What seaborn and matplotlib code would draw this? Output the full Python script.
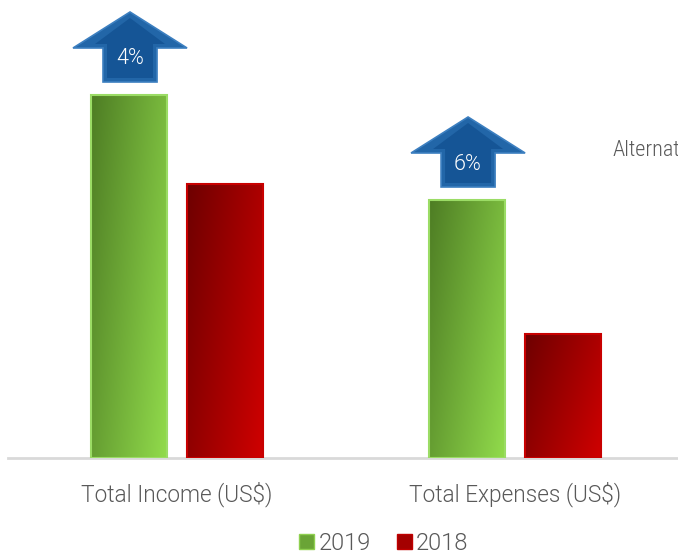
import os
import numpy as np
import pandas as pd
import matplotlib
matplotlib.use('Agg')
import matplotlib.pyplot as plt
import matplotlib.colors as mcolors
from matplotlib import font_manager as fm
from matplotlib.patches import Polygon, Patch
import seaborn as sns

# data (arbitrary units)
categories = ['Total Income (US$)', 'Total Expenses (US$)']
years = ['2019', '2018']
values_2019 = [363, 258]
values_2018 = [274, 124]
growth_labels = ['4%', '6%']

sns.set_style('white')
plt.rcParams['font.family'] = ['Roboto', 'DejaVu Sans']

font_paths = {os.path.basename(f): f for f in fm.findSystemFonts()}


def find_font(size, *names):
    for n in names:
        if n in font_paths:
            return fm.FontProperties(fname=font_paths[n], size=size)
    return fm.FontProperties(family='Roboto', weight='light', size=size)


df = pd.DataFrame({
    'category': categories * 2,
    'year': ['2019'] * 2 + ['2018'] * 2,
    'value': values_2019 + values_2018,
})

W, H = 678, 554
fig = plt.figure(figsize=(W / 100, H / 100), dpi=100)
ax = fig.add_axes([8 / W, (H - 458) / H, 1 - 8 / W, 458 / H])

palette = {'2019': '#79b53e', '2018': '#a80000'}
sns.barplot(data=df, x='category', y='value', hue='year', hue_order=years,
            palette=palette, width=0.568, gap=0.208, legend=False, ax=ax)

ax.set_xlabel('')
ax.set_ylabel('')
ax.set_yticks([])
ax.tick_params(axis='x', length=0, pad=17)
for lab in ax.get_xticklabels():
    lab.set_fontproperties(find_font(16.3, 'Roboto-Light.ttf'))
    lab.set_color('#595959')
for s in ['top', 'left', 'right']:
    ax.spines[s].set_visible(False)
ax.spines['bottom'].set_color('#d9d9d9')
ax.spines['bottom'].set_linewidth(2)


def grad_img(c_tl, c_br, n=64):
    a = np.array(mcolors.to_rgb(c_tl))
    b = np.array(mcolors.to_rgb(c_br))
    xx, yy = np.meshgrid(np.linspace(0, 1, n), np.linspace(0, 1, n))
    t = (0.65 * xx + 0.35 * yy)[..., None]
    return a + (b - a) * t


grads = {'2019': ('#4e7d24', '#92dc4c', '#9bdc65'),
         '2018': ('#6e0000', '#d00000', '#c80000')}

# patches come ordered by hue: first 2019 bars, then 2018 bars
bars = list(ax.patches)
bar_years = ['2019'] * len(categories) + ['2018'] * len(categories)
for p, yr in zip(bars, bar_years):
    x0, y0 = p.get_x(), p.get_y()
    w, h = p.get_width(), p.get_height()
    c1, c2, ec = grads[yr]
    p.set_facecolor('none')
    p.set_edgecolor(ec)
    p.set_linewidth(1.5)
    p.set_zorder(3)
    im = ax.imshow(grad_img(c1, c2), extent=[x0, x0 + w, y0, y0 + h],
                   origin='upper', aspect='auto', zorder=2,
                   interpolation='bilinear')
    im.set_clip_path(p)
ax.set_xlim(-0.5, 1.482)
ax.set_ylim(0, 458)

# growth arrows above the 2019 bars
px = 1.982 / (W - 8)  # data units per pixel in x
for i, lab in enumerate(growth_labels):
    p = bars[i]
    cx = p.get_x() + p.get_width() / 2 + 1 * px
    base = p.get_height() + 13
    hw, sw = 57 * px, 27 * px
    sh, hh = 34, 36
    pts = [(cx - sw, base), (cx - sw, base + sh), (cx - hw, base + sh),
           (cx, base + sh + hh), (cx + hw, base + sh), (cx + sw, base + sh),
           (cx + sw, base)]
    ax.add_patch(Polygon(pts, closed=True, facecolor='#2266a8',
                         edgecolor='#3c7fc0', linewidth=1.2, zorder=4))
    inner_pts = [(cx - sw + 4 * px, base + 4), (cx - sw + 4 * px, base + sh + 4),
                 (cx - hw + 22 * px, base + sh + 4), (cx, base + sh + hh - 6),
                 (cx + hw - 22 * px, base + sh + 4), (cx + sw - 4 * px, base + sh + 4),
                 (cx + sw - 4 * px, base + 4)]
    ax.add_patch(Polygon(inner_pts, closed=True, facecolor='#0d4a8a',
                         edgecolor='none', alpha=0.6, zorder=5))
    ax.text(cx, base + 23, lab, ha='center', va='center', color='white',
            fontproperties=find_font(15.5, 'Roboto-Light.ttf'), zorder=6)

fig.text(613 / W, 1 - 151 / H, 'Alternat', ha='left', va='center',
         color='#595959',
         fontproperties=find_font(16, 'RobotoCondensed-Light.ttf',
                                  'Roboto-Light.ttf'))

handles = [Patch(facecolor='#6aa436', edgecolor='#8fd050', label='2019'),
           Patch(facecolor='#a40000', edgecolor='#c00000', label='2018')]
fig.legend(handles=handles, loc='center',
           bbox_to_anchor=(384 / W, 1 - 543 / H), ncol=2, frameon=False,
           prop=find_font(17, 'Roboto-Light.ttf'), labelcolor='#595959',
           handlelength=0.62, handleheight=0.62, handletextpad=0.2,
           columnspacing=1.1, borderpad=0.1)

fig.savefig('out.png', dpi=100)
